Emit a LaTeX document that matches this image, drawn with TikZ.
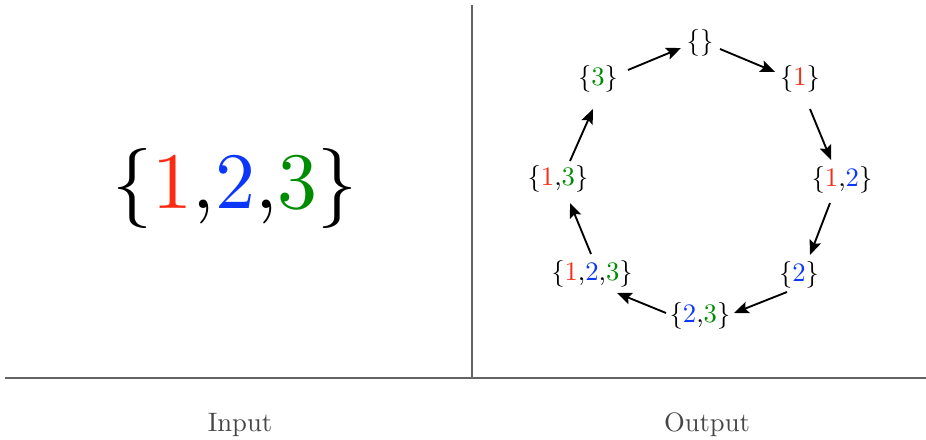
\documentclass[tikz,border=0pt]{standalone}
\usetikzlibrary{arrows.meta}
\definecolor{cred}{RGB}{250,45,20}
\definecolor{cblue}{RGB}{10,55,250}
\definecolor{cgreen}{RGB}{0,140,0}
\definecolor{rule}{RGB}{100,100,100}
\definecolor{lab}{RGB}{70,70,70}
\newcommand{\ra}{\textcolor{cred}{1}}
\newcommand{\rb}{\textcolor{cblue}{2}}
\newcommand{\rc}{\textcolor{cgreen}{3}}
\begin{document}
\begin{tikzpicture}[x=0.375pt,y=-0.375pt,
  setnode/.style={inner sep=1pt,outer sep=0pt},
  conn/.style={-{Stealth[length=5.5pt,width=4.5pt,inset=1pt]},line width=0.7pt},
  divider/.style={draw=rule,line width=0.45pt},
  caption/.style={text=lab}]
\useasboundingbox (0,0) rectangle (926,440);
\draw[divider] (472,5) -- (472,378);
\draw[divider] (5,378) -- (926,378);
\node[caption] (in) at (240,425) {Input};
\node[caption] (out) at (707,425) {Output};
\node (big) at (235,189) {\scalebox{3}{\{\ra,\rb,\rc\}}};
\node[setnode] (e) at (700,43) {\{\}};
\node[setnode] (s1) at (800,79) {\{\ra\}};
\node[setnode] (s12) at (842,180) {\{\ra,\rb\}};
\node[setnode] (s2) at (799,275) {\{\rb\}};
\node[setnode] (s23) at (700,316) {\{\rb,\rc\}};
\node[setnode] (s123) at (592,274) {\{\ra,\rb,\rc\}};
\node[setnode] (s13) at (558,179) {\{\ra,\rc\}};
\node[setnode] (s3) at (598,79) {\{\rc\}};
\draw[conn] ([shift={(20,6)}]e.center) -- ([shift={(-25,-7)}]s1.center);
\draw[conn] ([shift={(10,30)}]s1.center) -- ([shift={(-11,-20)}]s12.center);
\draw[conn] ([shift={(-12,23)}]s12.center) -- ([shift={(11,-20)}]s2.center);
\draw[conn] ([shift={(-12,17)}]s2.center) -- ([shift={(34,-3)}]s23.center);
\draw[conn] ([shift={(-34,-3)}]s23.center) -- ([shift={(25,19)}]s123.center);
\draw[conn] ([shift={(-1,-20)}]s123.center) -- ([shift={(12,24)}]s13.center);
\draw[conn] ([shift={(12,-18)}]s13.center) -- ([shift={(-5,30)}]s3.center);
\draw[conn] ([shift={(30,-9)}]s3.center) -- ([shift={(-19,5)}]e.center);
\end{tikzpicture}
\end{document}
